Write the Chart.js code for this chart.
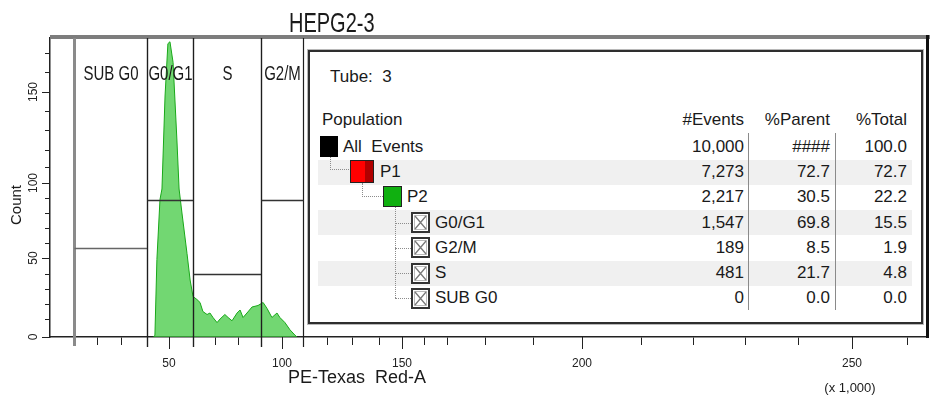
<!DOCTYPE html>
<html>
<head>
<meta charset="utf-8">
<script src="https://cdn.jsdelivr.net/npm/chart.js@4.4.0/dist/chart.umd.min.js"></script>
<style>
  body { margin: 0; background: #fff; }
  #wrap { position: relative; width: 937px; height: 405px; overflow: hidden;
          font-family: "Liberation Sans", Arial, sans-serif; color: #1a1a1a; }
  #c { position: absolute; left: 0; top: 0; }
  .t { position: absolute; white-space: pre; font-size: 17px; line-height: 20px; }
  .box { position: absolute; box-sizing: border-box; }
</style>
</head>
<body>
<div id="wrap">
  <canvas id="c" width="937" height="405"></canvas>
</div>
<script>
// histogram (PE-Texas Red-A, x 1,000)
const histX = [43.0, 43.6, 44.5, 45.9, 46.8, 48.2, 49.5, 50.4, 51.7, 53.3,
               54.2, 55.4, 57.5, 58.8, 60.0, 61.8, 63.2, 64.5, 66.4, 67.7,
               69.1, 70.9, 72.2, 74.3, 75.7, 77.4, 79.6, 80.9, 82.2, 83.9,
               86.1, 88.7, 91.0, 92.9, 95.2, 97.6, 99.0, 101.4, 103.8, 106.2, 107.1];
const histCount = [0, 1, 49, 89, 96, 148, 175, 176, 165, 125,
                   96, 80, 53, 36, 25, 23, 21, 15, 13, 14,
                   11, 8, 10, 13, 11, 9, 14, 16, 11, 14,
                   18, 19, 21, 17, 11, 14, 11, 8, 4, 1, 0];

// interval gates
const gateNames = ['SUB G0', 'G0/G1', 'S', 'G2/M'];
const gateFrom = [10, 40, 60, 90];
const gateTo = [40, 60, 90, 110];
const gateLevel = [57, 89, 40, 89];

// axis ticks
const xTicks = [10, 20, 30, 40, 50, 60, 70, 80, 90, 100, 110, 120, 130, 140, 150, 160, 170,
                180, 190, 200, 210, 220, 230, 240, 250, 260];
const xLabels = [50, 100, 150, 200, 250];
const yTicks = [0, 10, 20, 30, 40, 50, 60, 70, 80, 90, 100, 110, 120, 130, 140, 150, 160, 170];
const yLabels = [0, 50, 100, 150];

// statistics table
const tubeNumber = 3;
const tableHeaders = ['Population', '#Events', '%Parent', '%Total'];
const popNames = ['All  Events', 'P1', 'P2', 'G0/G1', 'G2/M', 'S', 'SUB G0'];
const popDepth = [0, 1, 2, 3, 3, 3, 3];
const popEvents = ['10,000', '7,273', '2,217', '1,547', '189', '481', '0'];
const popParent = ['####', '72.7', '30.5', '69.8', '8.5', '21.7', '0.0'];
const popTotal = ['100.0', '72.7', '22.2', '15.5', '1.9', '4.8', '0.0'];

// --- axis calibration: the scanned plot is not evenly spaced, so map value -> relative position ---
const xWarp = [[0, 0], [10, 24], [20, 47], [30, 71], [40, 97], [50, 119], [60, 143], [70, 165],
               [80, 188], [90, 211], [100, 232], [110, 253], [120, 277], [130, 302], [140, 329],
               [150, 352], [160, 374], [170, 397], [180, 435], [190, 483], [200, 532], [210, 591],
               [220, 643], [230, 695], [240, 748], [250, 802], [260, 857], [264, 878]];
const yWarp = [[0, 0], [10, 18], [20, 33], [30, 48], [40, 63], [50, 79], [60, 94], [70, 109],
               [80, 124], [90, 139], [100, 154], [110, 170], [120, 187], [130, 207], [140, 225],
               [150, 245], [160, 265], [170, 284], [178, 299]];

class WarpScale extends Chart.LinearScale {
  static id = 'warp';
  static defaults = Chart.LinearScale.defaults;

  _frac(v) {
    const s = this.options.stops;
    let i = 1;
    while (i < s.length - 1 && v > s[i][0]) i++;
    const a = s[i - 1], b = s[i];
    const r = a[1] + (v - a[0]) * (b[1] - a[1]) / (b[0] - a[0]);
    return (r - s[0][1]) / (s[s.length - 1][1] - s[0][1]);
  }
  getPixelForValue(v) {
    if (v === null || v === undefined || isNaN(v)) return NaN;
    const f = this._frac(v);
    return this.isHorizontal() ? this.left + f * this.width : this.bottom - f * this.height;
  }
  getValueForPixel(p) {
    const s = this.options.stops;
    const f = this.isHorizontal() ? (p - this.left) / this.width : (this.bottom - p) / this.height;
    const r = s[0][1] + f * (s[s.length - 1][1] - s[0][1]);
    let i = 1;
    while (i < s.length - 1 && r > s[i][1]) i++;
    const a = s[i - 1], b = s[i];
    return a[0] + (r - a[1]) * (b[0] - a[0]) / (b[1] - a[1]);
  }
}
Chart.register(WarpScale);

// --- gates, frame, long ticks ---
const gatePlugin = {
  id: 'gates',
  afterDatasetsDraw(chart) {
    const { ctx, chartArea: a, scales: { x, y } } = chart;
    ctx.save();

    ctx.fillStyle = '#7d7d7d';
    ctx.fillRect(a.left, a.top - 3, a.right - a.left + 2, 4);
    ctx.fillStyle = '#111';
    ctx.fillRect(a.right - 2, a.top - 3, 3, a.bottom - a.top + 4);

    ctx.strokeStyle = '#222';
    ctx.lineWidth = 1;
    xLabels.forEach(v => {
      const px = Math.round(x.getPixelForValue(v)) + 0.5;
      ctx.beginPath(); ctx.moveTo(px, a.bottom); ctx.lineTo(px, a.bottom + 12); ctx.stroke();
    });
    yLabels.forEach(v => {
      const py = Math.round(y.getPixelForValue(v)) + 0.5;
      ctx.beginPath(); ctx.moveTo(a.left, py); ctx.lineTo(a.left - 8, py); ctx.stroke();
    });

    gateNames.forEach((name, i) => {
      const x0 = Math.round(x.getPixelForValue(gateFrom[i])) + 0.5;
      const x1 = Math.round(x.getPixelForValue(gateTo[i])) + 0.5;
      const yl = Math.round(y.getPixelForValue(gateLevel[i])) + 0.5;

      if (i === 0) {
        ctx.strokeStyle = '#8a8a8a'; ctx.lineWidth = 3;
        ctx.beginPath(); ctx.moveTo(x0, a.top); ctx.lineTo(x0, a.bottom + 9); ctx.stroke();
      }
      ctx.strokeStyle = '#1e1e1e'; ctx.lineWidth = 1.2;
      ctx.beginPath(); ctx.moveTo(x1, a.top); ctx.lineTo(x1, a.bottom + 10); ctx.stroke();
      if (i > 0) {
        ctx.beginPath(); ctx.moveTo(x0, a.top); ctx.lineTo(x0, a.bottom + 10); ctx.stroke();
      }
      ctx.strokeStyle = i === 0 ? '#666' : '#333'; ctx.lineWidth = 1.6;
      ctx.beginPath(); ctx.moveTo(x0, yl); ctx.lineTo(x1, yl); ctx.stroke();

      ctx.save();
      ctx.translate((x0 + x1) / 2, a.top + 42);
      ctx.scale(1, 1.4);
      ctx.font = '15px "Liberation Sans", Arial, sans-serif';
      ctx.fillStyle = '#1a1a1a';
      ctx.textAlign = 'center';
      ctx.textBaseline = 'alphabetic';
      ctx.fillText(name, 0, 0);
      ctx.restore();
    });
    ctx.restore();
  }
};

const tickFont = { family: '"Liberation Sans", Arial, sans-serif', size: 12 };

new Chart(document.getElementById('c'), {
  type: 'line',
  data: {
    datasets: [{
      data: histX.map((v, i) => ({ x: v, y: histCount[i] })),
      borderColor: '#19a819',
      borderWidth: 1,
      backgroundColor: 'rgba(60, 200, 60, 0.72)',
      fill: 'origin',
      pointRadius: 0,
      tension: 0
    }]
  },
  options: {
    responsive: false,
    animation: false,
    devicePixelRatio: 1,
    layout: { padding: { top: 38, right: 9, left: 0, bottom: 0 } },
    plugins: { legend: { display: false }, tooltip: { enabled: false } },
    scales: {
      x: {
        type: 'warp', min: 0, max: 264, stops: xWarp,
        grid: { display: true, drawOnChartArea: false, tickLength: 8, tickColor: '#222', tickWidth: 1 },
        border: { display: true, color: '#222', width: 1.5 },
        ticks: {
          autoSkip: false, minRotation: 0, maxRotation: 0, padding: 11, color: '#222', font: tickFont,
          callback: v => xLabels.includes(v) ? String(v) : ''
        },
        afterBuildTicks: s => { s.ticks = xTicks.map(v => ({ value: v })); },
        afterFit: s => { s.height = 68; }
      },
      y: {
        type: 'warp', min: 0, max: 178, stops: yWarp,
        grid: { display: true, drawOnChartArea: false, tickLength: 5, tickColor: '#222', tickWidth: 1 },
        border: { display: true, color: '#222', width: 1.5 },
        ticks: {
          autoSkip: false, minRotation: 90, maxRotation: 90, crossAlign: 'center', padding: 1,
          color: '#222', font: tickFont,
          callback: v => yLabels.includes(v) ? String(v) : ''
        },
        afterBuildTicks: s => { s.ticks = yTicks.map(v => ({ value: v })); },
        afterFit: s => { s.width = 50; }
      }
    }
  },
  plugins: [gatePlugin]
});

// --- titles and statistics view (HTML on top of the canvas) ---
const wrap = document.getElementById('wrap');
function add(cls, css, text) {
  const el = document.createElement('div');
  el.className = cls;
  el.style.cssText = css;
  if (text !== undefined) el.textContent = text;
  wrap.appendChild(el);
  return el;
}

add('t', 'left:289px;top:8px;font-size:20px;transform:scaleY(1.4);transform-origin:0 0;', 'HEPG2-3');
add('t', 'left:16px;top:205px;font-size:15px;transform:translate(-50%,-50%) rotate(-90deg);', 'Count');
add('t', 'left:357px;top:377px;font-size:18px;transform:translate(-50%,-50%);', 'PE-Texas  Red-A');
add('t', 'left:850px;top:388px;font-size:13px;transform:translate(-50%,-50%);', '(x 1,000)');

add('box', 'left:308px;top:50px;width:615px;height:274px;border:2px solid #2e2e2e;outline:1px solid #b8b8b8;background:#fff;');
add('t', 'left:330px;top:67px;', 'Tube:  ' + tubeNumber);

const rowY = i => 147 + i * 25.2;
const colRight = [744, 830, 907];
const depthIcon = [320, 350, 383, 411];
const depthText = [343, 380, 407, 435];

add('t', 'left:322px;top:110px;', tableHeaders[0]);
tableHeaders.slice(1).forEach((h, k) => add('t', `right:${937 - colRight[k]}px;top:110px;`, h));

popNames.forEach((name, i) => {
  const yc = rowY(i);
  if (i % 2 === 1) add('box', `left:318px;top:${yc - 12.5}px;width:594px;height:25px;background:#f0f0f0;`);
});
[748, 835].forEach(xl => add('box', `left:${xl}px;top:133px;width:1px;height:177px;background:#8a8a8a;`));

// tree connectors
const dot = 'border-color:#8c8c8c;border-style:dotted;border-width:0;';
add('box', `left:330px;top:157px;width:19px;height:13px;${dot}border-left-width:1px;border-bottom-width:1px;`);
add('box', `left:362px;top:183px;width:21px;height:14px;${dot}border-left-width:1px;border-bottom-width:1px;`);
add('box', `left:395px;top:207px;width:1px;height:${rowY(6) - 207}px;${dot}border-left-width:1px;`);

popNames.forEach((name, i) => {
  const yc = rowY(i);
  const d = popDepth[i];
  const xi = depthIcon[d];
  if (d === 0) {
    add('box', `left:${xi}px;top:${yc - 11}px;width:18px;height:21px;background:#000;`);
  } else if (d === 1) {
    add('box', `left:${xi}px;top:${yc - 12}px;width:24px;height:23px;border:1px solid #222;background:linear-gradient(90deg,#ff0000 65%,#b00000 65%);`);
  } else if (d === 2) {
    add('box', `left:${xi}px;top:${yc - 11}px;width:19px;height:21px;border:1px solid #222;background:#10b010;`);
  } else {
    add('box', `left:395px;top:${Math.round(yc)}px;width:16px;height:1px;${dot}border-top-width:1px;`);
    const ic = add('box', `left:${xi}px;top:${yc - 10.5}px;width:19px;height:21px;`);
    ic.innerHTML = '<svg width="19" height="21"><rect x="1" y="1" width="17" height="19" fill="#fff" stroke="#333" stroke-width="2"/>' +
      '<rect x="3.5" y="3.5" width="12" height="14" fill="none" stroke="#bbb" stroke-width="1"/>' +
      '<path d="M4 4 L15 17 M15 4 L4 17" stroke="#7a7a7a" stroke-width="1.3"/></svg>';
  }
  add('t', `left:${depthText[d]}px;top:${yc - 10}px;`, name);
  [popEvents[i], popParent[i], popTotal[i]].forEach((val, k) =>
    add('t', `right:${937 - colRight[k]}px;top:${yc - 10}px;`, val));
});
</script>
</body>
</html>
